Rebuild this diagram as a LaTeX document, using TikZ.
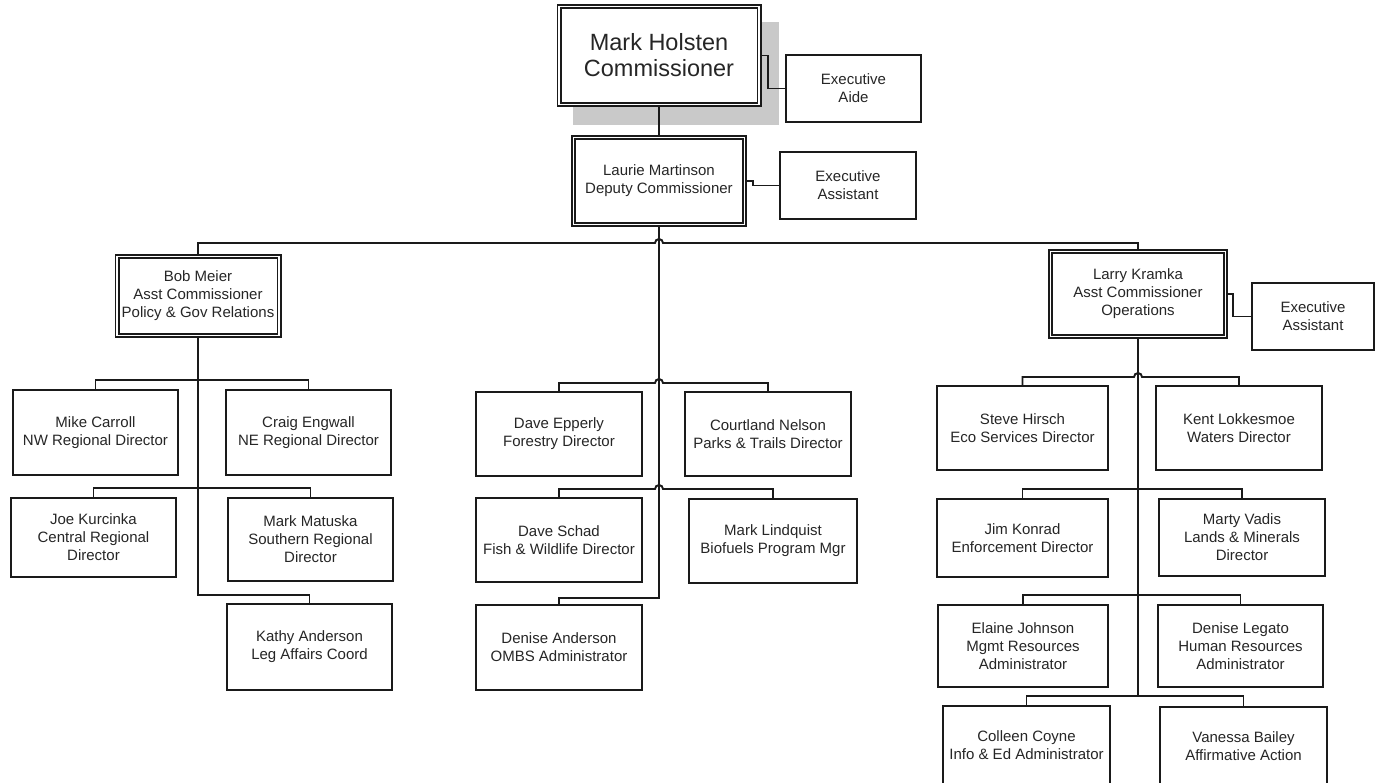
\documentclass[tikz,border=0pt]{standalone}
\usepackage{fontspec}
\setmainfont{Liberation Sans}
\definecolor{ln}{HTML}{1A1A1A}
\definecolor{tx}{HTML}{262626}
\definecolor{shd}{HTML}{C9C9C9}
\begin{document}
\begin{tikzpicture}[x=1pt,y=-1pt,
  box/.style={draw=ln, fill=white, line width=2pt, align=center, inner sep=0pt, text=tx,
    font=\fontsize{15}{18}\selectfont},
  dbox/.style={box, double=white, double distance=1.8pt, line width=1.6pt},
  wh/.style 2 args={minimum width={#1pt-2pt}, minimum height={#2pt-2pt}},
  dwh/.style 2 args={minimum width={#1pt-5pt}, minimum height={#2pt-5pt}},
  conn/.style={draw=ln, line width=1.9pt}]
\useasboundingbox (0,0) rectangle (1376,782);
\fill[white] (0,0) rectangle (1376,782);
\clip (0,0) rectangle (1376,782);

% shadow of top box
\fill[shd] (573,22) rectangle (779,125);

% top level
\node[dbox, dwh={205}{103}, font=\fontsize{23.5}{26}\selectfont] (holsten) at (659,55.5) {Mark Holsten\\Commissioner};
\node[box, wh={137}{69}] (aide) at (853.5,88.5) {Executive\\Aide};
\node[dbox, dwh={176}{92}] (martinson) at (659,181) {Laurie Martinson\\Deputy Commissioner};
\node[box, wh={138}{69}] (ea1) at (848,185.5) {Executive\\Assistant};

% assistant commissioners
\node[dbox, dwh={167}{84}] (meier) at (198,296) {Bob Meier\\Asst Commissioner\\Policy \& Gov Relations};
\node[dbox, dwh={180}{90}] (kramka) at (1138,294) {Larry Kramka\\Asst Commissioner\\Operations};
\node[box, wh={124}{69}] (ea2) at (1313,316.5) {Executive\\Assistant};

% left column
\node[box, wh={167}{87}] (mike) at (95.5,432.5) {Mike Carroll\\NW Regional Director};
\node[box, wh={167}{87}] (craig) at (308.5,432.5) {Craig Engwall\\NE Regional Director};
\node[box, wh={167}{81}] (joe) at (93.5,537.5) {Joe Kurcinka\\Central Regional\\Director};
\node[box, wh={167}{85}] (matuska) at (310.5,539.5) {Mark Matuska\\Southern Regional\\Director};
\node[box, wh={167}{88}] (kathy) at (309.5,647) {Kathy Anderson\\Leg Affairs Coord};

% middle column
\node[box, wh={168}{86}] (epperly) at (559,434) {Dave Epperly\\Forestry Director};
\node[box, wh={168}{86}] (nelson) at (768,434) {Courtland Nelson\\Parks \& Trails Director};
\node[box, wh={168}{86}] (schad) at (559,540) {Dave Schad\\Fish \& Wildlife Director};
\node[box, wh={170}{86}] (lindquist) at (773,541) {Mark Lindquist\\Biofuels Program Mgr};
\node[box, wh={168}{87}] (danderson) at (559,647.5) {Denise Anderson\\OMBS Administrator};

% right column
\node[box, wh={173}{86}] (hirsch) at (1022.5,428) {Steve Hirsch\\Eco Services Director};
\node[box, wh={168}{86}] (kent) at (1239,428) {Kent Lokkesmoe\\Waters Director};
\node[box, wh={173}{80}] (konrad) at (1022.5,538) {Jim Konrad\\Enforcement Director};
\node[box, wh={168}{79}] (vadis) at (1242,537.5) {Marty Vadis\\Lands \& Minerals\\Director};
\node[box, wh={172}{84}] (elaine) at (1023,646) {Elaine Johnson\\Mgmt Resources\\Administrator};
\node[box, wh={167}{84}] (legato) at (1240.5,646) {Denise Legato\\Human Resources\\Administrator};
\node[box, wh={169}{80}] (colleen) at (1026.5,745) {Colleen Coyne\\Info \& Ed Administrator};
\node[box, wh={169}{80}] (vanessa) at (1243.5,746) {Vanessa Bailey\\Affirmative Action};

% junction coordinates
\coordinate (bus) at (659,243);
\coordinate (m1) at (659,383);
\coordinate (m2) at (659,489);
\coordinate (mend) at (659,598);
\coordinate (lend) at (198,595);
\coordinate (r1) at (1138,377);
\coordinate (rend) at (1138,696);

% connectors - top
\draw[conn] (holsten.east) -- ++(8,0) |- (aide.west);
\draw[conn] (holsten.south) -- (martinson.north);
\draw[conn] (martinson.east) -- ++(8,0) |- (ea1.west);
\draw[conn] (martinson.south) -- (mend) -| (danderson.north);
\draw[conn] (meier.north) |- ([xshift=-4pt]bus) arc[start angle=180,end angle=0,radius=4pt] -| (kramka.north);

% left column
\draw[conn] (meier.south) -- (lend) -| (kathy.north);
\draw[conn] (mike.north) -- ++(0,-9) -| (craig.north);
\draw[conn] (joe.north) -- ++(0,-9) -| (matuska.north);

% middle column
\draw[conn] (epperly.north) |- ([xshift=-4pt]m1) arc[start angle=180,end angle=0,radius=4pt] -| (nelson.north);
\draw[conn] (schad.north) |- ([xshift=-4pt]m2) arc[start angle=180,end angle=0,radius=4pt] -| (lindquist.north);

% right column
\draw[conn] (kramka.south) -- (rend);
\draw[conn] (kramka.east) -- ++(7,0) |- (ea2.west);
\draw[conn] (hirsch.north) |- ([xshift=-4pt]r1) arc[start angle=180,end angle=0,radius=4pt] -| (kent.north);
\draw[conn] (konrad.north) -- ++(0,-9) -| (vadis.north);
\draw[conn] (elaine.north) -- ++(0,-9) -| (legato.north);
\draw[conn] (colleen.north) -- ++(0,-9) -| (vanessa.north);
\end{tikzpicture}
\end{document}
